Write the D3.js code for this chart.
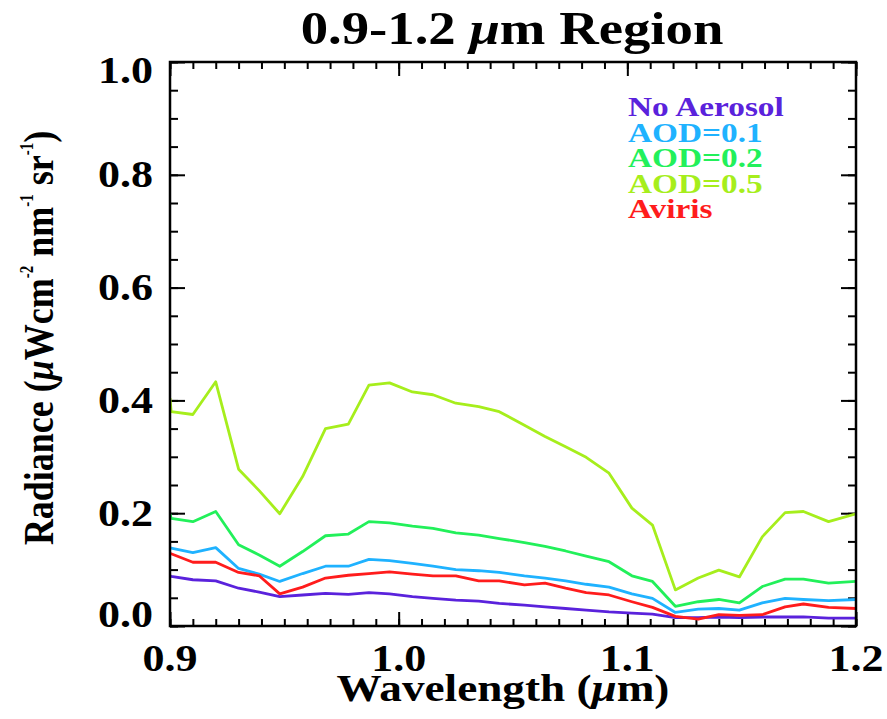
<!DOCTYPE html>
<html>
<head>
<meta charset="utf-8">
<script src="https://cdn.jsdelivr.net/npm/d3@7"></script>
<style>
  body { margin: 0; background: #fff; }
  text { font-family: "Liberation Serif", "Times New Roman", serif; font-weight: bold; }
</style>
</head>
<body>
<svg width="887" height="719"></svg>
<script>
/*
 ***************************
 * Data *
 ***************************
*/
const wavelength = [0.900, 0.9005, 0.910, 0.920, 0.930, 0.939, 0.948, 0.958, 0.968, 0.978, 0.987,
  0.996, 1.006, 1.015, 1.025, 1.035, 1.044, 1.055, 1.064, 1.073, 1.082, 1.092, 1.102,
  1.111, 1.121, 1.131, 1.140, 1.149, 1.159, 1.169, 1.177, 1.188, 1.200];

const noAerosol = [0.089, 0.088, 0.082, 0.080, 0.067, 0.060, 0.052, 0.055, 0.058, 0.056, 0.059,
  0.057, 0.052, 0.049, 0.046, 0.044, 0.040, 0.037, 0.034, 0.031, 0.028, 0.025, 0.023,
  0.021, 0.015, 0.015, 0.016, 0.015, 0.016, 0.016, 0.016, 0.014, 0.014];

const aod01 = [0.139, 0.138, 0.130, 0.139, 0.102, 0.092, 0.079, 0.093, 0.106, 0.106, 0.118,
  0.116, 0.111, 0.106, 0.100, 0.098, 0.095, 0.089, 0.085, 0.080, 0.074, 0.069, 0.057,
  0.049, 0.024, 0.030, 0.031, 0.028, 0.041, 0.049, 0.047, 0.045, 0.047];

const aod02 = [0.199, 0.191, 0.185, 0.203, 0.144, 0.126, 0.106, 0.132, 0.160, 0.163, 0.185,
  0.183, 0.177, 0.173, 0.165, 0.161, 0.155, 0.148, 0.141, 0.133, 0.124, 0.114, 0.089,
  0.079, 0.035, 0.043, 0.047, 0.041, 0.070, 0.083, 0.083, 0.076, 0.079];

const aod05 = [0.404, 0.380, 0.375, 0.433, 0.278, 0.240, 0.199, 0.265, 0.350, 0.358, 0.427,
  0.431, 0.415, 0.410, 0.395, 0.389, 0.380, 0.356, 0.336, 0.318, 0.299, 0.271, 0.209,
  0.179, 0.064, 0.085, 0.099, 0.087, 0.158, 0.201, 0.203, 0.185, 0.199];

const aviris = [0.129, 0.128, 0.113, 0.113, 0.095, 0.089, 0.057, 0.069, 0.085, 0.090, 0.093,
  0.096, 0.092, 0.089, 0.089, 0.080, 0.080, 0.073, 0.076, 0.067, 0.059, 0.055, 0.043,
  0.033, 0.017, 0.012, 0.020, 0.019, 0.020, 0.034, 0.039, 0.033, 0.031];

const seriesNames = ['No Aerosol', 'AOD=0.1', 'AOD=0.2', 'AOD=0.5', 'Aviris'];
const seriesValues = [noAerosol, aod01, aod02, aod05, aviris];
const seriesColors = ['#5a22dc', '#1fb2ff', '#22f05a', '#a6ee1c', '#ff1c1c'];

const xTicks = [0.9, 1.0, 1.1, 1.2];
const yTicks = [0.0, 0.2, 0.4, 0.6, 0.8, 1.0];

/*
 ***************************
 * Scales and frame        *
 ***************************
*/
const sx = 1.19; // the picture is stretched sideways, so is the text
const plotLeft = 170, plotRight = 856, plotTop = 62, plotBottom = 626;

const x = d3.scaleLinear().domain([0.9, 1.2]).range([plotLeft, plotRight]);
const y = d3.scaleLinear().domain([0, 1]).range([plotBottom, plotTop]);

const $svg = d3.select('svg');

$svg.append('rect')
  .attr('width', 887).attr('height', 719).attr('fill', '#fff');

$svg.append('clipPath').attr('id', 'plotclip')
  .append('rect')
    .attr('x', plotLeft).attr('y', plotTop)
    .attr('width', plotRight - plotLeft).attr('height', plotBottom - plotTop);

// ticks on all four sides, pointing inward
const xMinor = d3.range(0, 31).map(i => 0.9 + i * 0.01);
const yMinor = d3.range(0, 21).map(i => i * 0.05);

function drawAxis(axis, transform) {
  const g = $svg.append('g')
    .attr('transform', transform)
    .call(axis);
  g.select('.domain').remove();
  g.selectAll('.tick line').attr('stroke', '#000').attr('stroke-width', 2);
  return g;
}

drawAxis(d3.axisBottom(x).tickValues(xMinor).tickSize(-7).tickFormat(''), `translate(0,${plotBottom})`);
drawAxis(d3.axisBottom(x).tickValues(xTicks).tickSize(-14).tickFormat(''), `translate(0,${plotBottom})`);
drawAxis(d3.axisTop(x).tickValues(xMinor).tickSize(-7).tickFormat(''), `translate(0,${plotTop})`);
drawAxis(d3.axisTop(x).tickValues(xTicks).tickSize(-14).tickFormat(''), `translate(0,${plotTop})`);
drawAxis(d3.axisLeft(y).tickValues(yMinor).tickSize(-8).tickFormat(''), `translate(${plotLeft},0)`);
drawAxis(d3.axisLeft(y).tickValues(yTicks).tickSize(-15).tickFormat(''), `translate(${plotLeft},0)`);
drawAxis(d3.axisRight(y).tickValues(yMinor).tickSize(-8).tickFormat(''), `translate(${plotRight},0)`);
drawAxis(d3.axisRight(y).tickValues(yTicks).tickSize(-15).tickFormat(''), `translate(${plotRight},0)`);

/*
 ***************************
 * Lines                   *
 ***************************
*/
const line = d3.line()
  .x((d, i) => x(wavelength[i]))
  .y(d => y(d));

$svg.append('g')
  .attr('clip-path', 'url(#plotclip)')
  .selectAll('path')
  .data(seriesValues)
  .enter()
  .append('path')
    .attr('d', line)
    .attr('fill', 'none')
    .attr('stroke', (d, i) => seriesColors[i])
    .attr('stroke-width', 2.8)
    .attr('stroke-linejoin', 'round');

$svg.append('rect')
  .attr('x', plotLeft).attr('y', plotTop)
  .attr('width', plotRight - plotLeft).attr('height', plotBottom - plotTop)
  .attr('fill', 'none')
  .attr('stroke', '#000')
  .attr('stroke-width', 2.5);

/*
 ***************************
 * Text                    *
 ***************************
*/
// tick labels
$svg.append('g').selectAll('text')
  .data(xTicks)
  .enter()
  .append('text')
    .attr('transform', d => `translate(${x(d)},671) scale(${sx},1)`)
    .attr('text-anchor', 'middle')
    .attr('font-size', 37)
    .text(d => d.toFixed(1));

$svg.append('g').selectAll('text')
  .data(yTicks)
  .enter()
  .append('text')
    .attr('transform', d => {
      const shift = d === 1 ? 21 : (d === 0 ? 1 : 12.5);
      return `translate(153,${y(d) + shift}) scale(${sx},1)`;
    })
    .attr('text-anchor', 'end')
    .attr('font-size', 37)
    .text(d => d.toFixed(1));

// title
const title = $svg.append('text')
  .attr('transform', `translate(512,44) scale(${sx},1)`)
  .attr('text-anchor', 'middle')
  .attr('font-size', 46);
title.append('tspan').text('0.9-1.2 ');
title.append('tspan').attr('font-style', 'italic').text('μ');
title.append('tspan').text('m Region');

// x axis title
const xTitle = $svg.append('text')
  .attr('transform', `translate(503,701) scale(${sx},1)`)
  .attr('text-anchor', 'middle')
  .attr('font-size', 38);
xTitle.append('tspan').text('Wavelength (');
xTitle.append('tspan').attr('font-style', 'italic').text('μ');
xTitle.append('tspan').text('m)');

// y axis title
const yTitle = $svg.append('text')
  .attr('transform', `translate(53,338) scale(${sx},1) rotate(-90)`)
  .attr('text-anchor', 'middle')
  .attr('font-size', 36);
yTitle.append('tspan').text('Radiance (');
yTitle.append('tspan').attr('font-style', 'italic').text('μ');
yTitle.append('tspan').text('Wcm');
yTitle.append('tspan').attr('font-size', 15).attr('dy', -17).text('-2');
yTitle.append('tspan').attr('dy', 17).text(' nm');
yTitle.append('tspan').attr('font-size', 15).attr('dy', -17).text('-1');
yTitle.append('tspan').attr('dy', 17).text(' sr');
yTitle.append('tspan').attr('font-size', 15).attr('dy', -17).text('-1');
yTitle.append('tspan').attr('dy', 17).text(')');

// legend
$svg.append('g').selectAll('text')
  .data(seriesNames)
  .enter()
  .append('text')
    .attr('transform', (d, i) => `translate(628,${116 + i * 25.6}) scale(${sx},1)`)
    .attr('font-size', 28)
    .attr('fill', (d, i) => seriesColors[i])
    .text(d => d);
</script>
</body>
</html>
